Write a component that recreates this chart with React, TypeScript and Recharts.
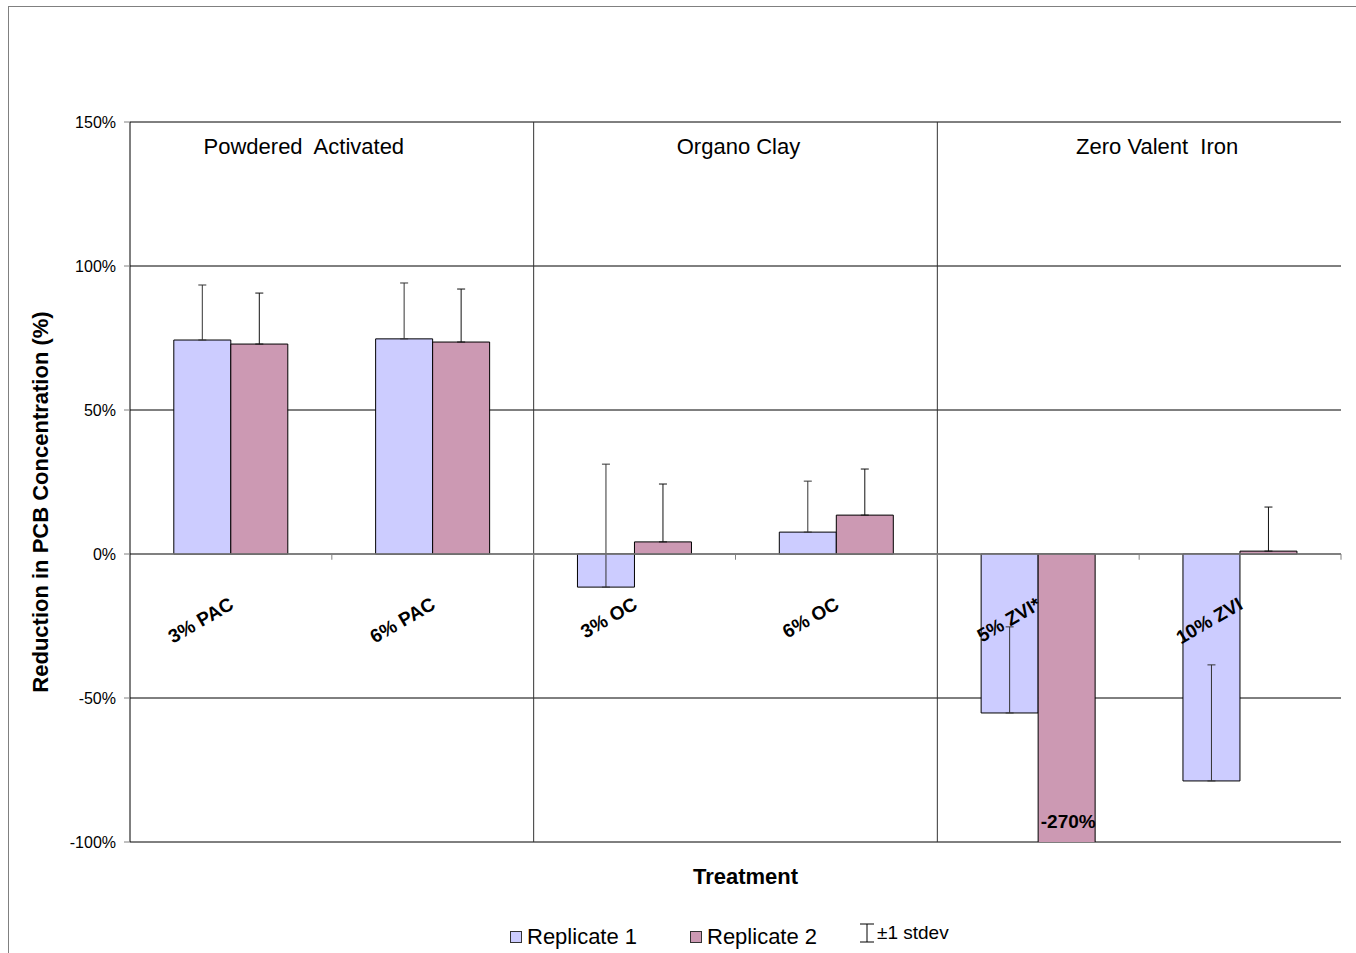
// PCB削減率：処理剤ごとの反復1・反復2の棒グラフ（+1標準偏差のエラーバー付き）
import {
  Bar,
  BarChart,
  CartesianGrid,
  ErrorBar,
  ReferenceArea,
  ReferenceDot,
  ReferenceLine,
  XAxis,
  YAxis,
} from 'recharts'

const categories = ['3% PAC', '6% PAC', '3% OC', '6% OC', '5% ZVI*', '10% ZVI']
const replicate1 = [74.3, 74.7, -11.5, 7.6, -55.2, -78.8]
const replicate2 = [72.9, 73.6, 4.2, 13.5, -270, 1.0]
const stdev1 = [19.1, 19.4, 42.7, 17.7, 29.9, 40.3]
const stdev2: (number | null)[] = [17.7, 18.4, 20.1, 16.0, null, 15.3]
const groups = ['Powdered\u00a0 Activated', 'Organo Clay', 'Zero Valent\u00a0 Iron']
const groupShift = [-28, 3, 18] // 見出しの水平ずれ（元図に合わせる）
const yTicks = [-100, -50, 0, 50, 100, 150]

const REP1 = '#CCCCFF'
const REP2 = '#CC99B3'
const GRID = '#808080'
const FONT = '"Liberation Sans", Arial, sans-serif'
const NARROW = '"Liberation Sans Narrow", "Liberation Sans", Arial, sans-serif'

const data = categories.map((name, i) => ({
  name,
  r1: replicate1[i],
  r2: replicate2[i],
  e1: [0, stdev1[i]],
  e2: stdev2[i] == null ? null : [0, stdev2[i]],
}))

function CatLabel({ viewBox, text }: any) {
  const x = viewBox.x + 4
  const y = viewBox.y + 54
  return (
    <text
      x={x}
      y={y}
      transform={`rotate(-30, ${x}, ${y})`}
      textAnchor="end"
      fontFamily={NARROW}
      fontWeight="bold"
      fontSize={19}
      fill="#000"
    >
      {text}
    </text>
  )
}

// 範囲の右端に縦線だけを描く（区切り線・目盛り用）
const rightEdge = (color: string) => (p: any) =>
  <line x1={p.x + p.width} y1={p.y} x2={p.x + p.width} y2={p.y + p.height} stroke={color} strokeWidth={1} />

export default function App() {
  return (
    <div style={{ position: 'absolute', left: 8, top: 5, width: 1348, height: 948, fontFamily: FONT }}>
      <div style={{ position: 'absolute', left: 0, top: 1, width: 1348, height: 1, background: GRID }} />
      <div style={{ position: 'absolute', left: 0, top: 1, width: 1, height: 947, background: GRID }} />
      <div style={{ position: 'absolute', left: 0, top: 0 }}>
        <BarChart
          width={1348}
          height={900}
          data={data}
          margin={{ top: 117, right: 15, left: 0, bottom: 0 }}
          barCategoryGap="21.7%"
          barGap={0}
        >
          <CartesianGrid vertical={false} stroke="#000" />
          <XAxis
            dataKey="name"
            tick={false}
            tickLine={false}
            axisLine={false}
            height={63}
            label={(p: any) => (
              <text
                x={p.viewBox.x + p.viewBox.width / 2 + 10}
                y={p.viewBox.y + 42}
                textAnchor="middle"
                fontFamily={FONT}
                fontWeight="bold"
                fontSize={22}
                fill="#000"
              >
                Treatment
              </text>
            )}
          />
          <YAxis
            domain={[-100, 150]}
            ticks={yTicks}
            allowDataOverflow
            width={122}
            tickFormatter={(v: number) => `${v}%`}
            tick={{ fill: '#000', fontSize: 16, fontFamily: FONT }}
            tickSize={6}
            tickMargin={8}
            tickLine={{ stroke: GRID }}
            axisLine={{ stroke: '#000' }}
            label={(p: any) => {
              const x = p.viewBox.x + 32
              const y = p.viewBox.y + p.viewBox.height / 2 + 20
              return (
                <text
                  x={x}
                  y={y}
                  transform={`rotate(-90, ${x}, ${y})`}
                  textAnchor="middle"
                  dominantBaseline="central"
                  fontFamily={FONT}
                  fontWeight="bold"
                  fontSize={22}
                  fill="#000"
                >
                  Reduction in PCB Concentration (%)
                </text>
              )
            }}
          />

          {/* 処理剤グループの見出しと区切り線 */}
          {groups.map((g, i) => (
            <ReferenceArea
              key={g}
              x1={categories[i * 2]}
              x2={categories[i * 2 + 1]}
              shape={i < groups.length - 1 ? rightEdge('#333') : () => <g />}
              label={(p: any) => (
                <text
                  x={p.viewBox.x + p.viewBox.width / 2 + groupShift[i]}
                  y={p.viewBox.y + 32}
                  textAnchor="middle"
                  fontFamily={FONT}
                  fontSize={22}
                  fill="#000"
                >
                  {g}
                </text>
              )}
            />
          ))}

          <Bar dataKey="r1" fill={REP1} stroke="#000" strokeWidth={1} isAnimationActive={false}>
            <ErrorBar dataKey="e1" direction="y" width={4} stroke="#333" strokeWidth={1} />
          </Bar>
          <Bar dataKey="r2" fill={REP2} stroke="#000" strokeWidth={1} isAnimationActive={false}>
            <ErrorBar dataKey="e2" direction="y" width={4} stroke="#111" strokeWidth={1} />
          </Bar>

          <ReferenceLine y={0} stroke={GRID} strokeWidth={1.5} />
          {/* 0%線の下の区切り目盛り */}
          {categories.map((c) => (
            <ReferenceArea key={`t-${c}`} x1={c} x2={c} y1={-2} y2={0} shape={rightEdge(GRID)} />
          ))}

          {categories.map((c) => (
            <ReferenceDot
              key={c}
              x={c}
              y={0}
              r={0}
              fill="none"
              stroke="none"
              label={(p: any) => <CatLabel {...p} text={c} />}
            />
          ))}
          {/* 軸範囲外（-270%）の値を棒の中に表示 */}
          <ReferenceDot
            x={categories[4]}
            y={-100}
            r={0}
            fill="none"
            stroke="none"
            label={(p: any) => (
              <text
                x={p.viewBox.x + 30}
                y={p.viewBox.y - 14}
                textAnchor="middle"
                fontFamily={NARROW}
                fontWeight="bold"
                fontSize={19}
                fill="#000"
              >
                {`${replicate2[4]}%`}
              </text>
            )}
          />
        </BarChart>
      </div>

      {/* 凡例 */}
      <div style={{ position: 'absolute', left: 502, top: 919, display: 'flex', alignItems: 'center', fontSize: 22, color: '#000' }}>
        <span style={{ width: 10, height: 10, background: REP1, border: '1px solid #333', marginRight: 5 }} />
        <span>Replicate 1</span>
      </div>
      <div style={{ position: 'absolute', left: 682, top: 919, display: 'flex', alignItems: 'center', fontSize: 22, color: '#000' }}>
        <span style={{ width: 10, height: 10, background: REP2, border: '1px solid #333', marginRight: 5 }} />
        <span>Replicate 2</span>
      </div>
      <div style={{ position: 'absolute', left: 850, top: 917, display: 'flex', alignItems: 'center', fontSize: 19, color: '#000' }}>
        <svg width={18} height={20} style={{ marginRight: 1 }}>
          <line x1={9} y1={1} x2={9} y2={19} stroke="#000" />
          <line x1={2} y1={1} x2={16} y2={1} stroke="#000" />
          <line x1={2} y1={19} x2={16} y2={19} stroke="#000" />
        </svg>
        <span>±1 stdev</span>
      </div>
    </div>
  )
}
